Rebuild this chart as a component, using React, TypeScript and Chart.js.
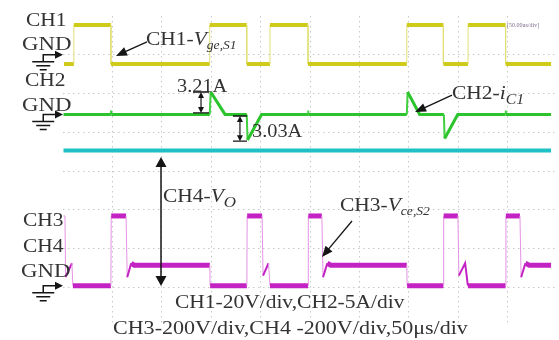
import React, { useEffect, useRef, useState } from "react";
import { Chart, registerables } from "chart.js";

Chart.register(...registerables);

const W = 559;
const H = 340;

// time axis (µs, 50 µs/div, 10 div) and vertical axis (divisions, 8 div)
const timeMin = 0;
const timeMax = 500;
const timeStep = 50;
const divMin = 0;
const divMax = 8;
const divStep = 1;

// CH1 - gate voltage of S1 (time µs / level in divisions)
const ch1Time = [1, 11, 11, 48.5, 48.5, 148.5, 148.5, 186, 186, 209.5, 209.5, 248, 248, 348, 348, 385, 385, 410, 410, 448, 448, 494];
const ch1Level = [6.76, 6.76, 7.77, 7.77, 6.76, 6.76, 7.77, 7.77, 6.76, 6.76, 7.77, 7.77, 6.76, 6.76, 7.77, 7.77, 6.76, 6.76, 7.77, 7.77, 6.76, 6.76];

// CH2 - capacitor current iC1
const ch2Time = [0.5, 48.5, 48.7, 48.9, 148.5, 149.5, 164, 186, 186.8, 201, 248, 248.2, 248.4, 348, 348.8, 361, 385.5, 386.3, 399.5, 448, 448.2, 448.4, 494];
const ch2Level = [5.46, 5.46, 5.56, 5.46, 5.46, 6.04, 5.46, 5.46, 4.8, 5.46, 5.46, 5.56, 5.46, 5.46, 6.04, 5.46, 5.46, 4.84, 5.46, 5.46, 5.56, 5.46, 5.46];

// CH3 - collector-emitter voltage of S2
const ch3Time = [0.5, 2, 2.6, 9, 10, 48.5, 48.8, 63.8, 65, 69, 72, 148.6, 148.9, 186.1, 186.4, 201.5, 202.5, 208, 209.5, 248, 248.3, 262, 263.2, 267.5, 271, 348, 348.3, 385, 385.3, 399.7, 400.7, 407, 409.8, 448, 448.3, 462.5, 463.7, 468, 472, 494];
const ch3Level = [2.84, 2.84, 1.26, 1.62, 1.04, 1.04, 2.84, 2.84, 1.26, 1.62, 1.57, 1.57, 1.04, 1.04, 2.84, 2.84, 1.3, 1.62, 1.04, 1.04, 2.84, 2.84, 1.26, 1.62, 1.57, 1.57, 1.04, 1.04, 2.84, 2.84, 1.3, 1.62, 1.04, 1.04, 2.84, 2.84, 1.26, 1.62, 1.57, 1.57];

// CH4 - output voltage Vo
const ch4Time = [0.5, 494];
const ch4Level = [4.53, 4.53];

// annotation geometry (data units)
const pointerArrows = [
  { from: [85.0, 7.33], to: [53.6, 6.97] },
  { from: [393.7, 5.96], to: [356.3, 5.52] },
  { from: [292.5, 2.71], to: [262.1, 1.78] },
];
const spanArrows = [
  { t: 99.2, v0: 4.36, v1: 1.03, tick: 0, head: 10, half: 5.5, lw: 1.5 },
  { t: 139.7, v0: 6.04, v1: 5.5, tick: 8, head: 6, half: 3, lw: 1.2 },
  { t: 179.1, v0: 5.42, v1: 4.77, tick: 7, head: 6, half: 3, lw: 1.2 },
];
const groundLevels = [7.0, 5.46, 1.04];
const groundTime = -20;

const SERIF = "'Liberation Serif', 'Times New Roman', serif";

const it = (s: string) => <span style={{ fontStyle: "italic" }}>{s}</span>;
const sub = (s: string, size = 12) => (
  <span style={{ fontStyle: "italic", fontSize: size, verticalAlign: "-0.3em" }}>{s}</span>
);

type Label = { t: number; v: number; size: number; node: React.ReactNode; color?: string; sx?: number };

const LABELS: Label[] = [
  { t: -37.4, v: 7.92, size: 19, node: "CH1" },
  { t: -41.5, v: 7.3, size: 19, node: "GND", sx: 1.2 },
  { t: -38.5, v: 6.37, size: 19, node: "CH2" },
  { t: -41.5, v: 5.73, size: 19, node: "GND", sx: 1.2 },
  { t: -40.5, v: 2.76, size: 19, node: "CH3" },
  { t: -40.5, v: 2.09, size: 19, node: "CH4" },
  { t: -42.5, v: 1.45, size: 19, node: "GND", sx: 1.2 },
  { t: 84.0, v: 7.38, size: 19, node: <>CH1-{it("V")}{sub("ge,S1")}</> },
  { t: 115.4, v: 6.19, size: 18, node: "3.21A" },
  { t: 191.3, v: 5.03, size: 18, node: "3.03A" },
  { t: 393.7, v: 5.96, size: 19, node: <>CH2-{it("i")}{sub("C1", 14)}</> },
  { t: 101.2, v: 3.3, size: 19, node: <>CH4-{it("V")}{sub("O", 15)}</> },
  { t: 280.4, v: 3.1, size: 19, node: <>CH3-{it("V")}{sub("ce,S2")}</> },
  { t: 113.4, v: 0.65, size: 19, node: "CH1-20V/div,CH2-5A/div" },
  { t: 50.6, v: -0.03, size: 19, node: "CH3-200V/div,CH4 -200V/div,50μs/div", sx: 1.16 },
  { t: 449.4, v: 7.77, size: 6, node: "[50.00us/div]", color: "#7b6d8c", sx: 1 },
];

function pts(t: number[], v: number[]) {
  return t.map((x, i) => ({ x, y: v[i] }));
}

function head(ctx: CanvasRenderingContext2D, x: number, y: number, ang: number, len: number, half: number) {
  ctx.beginPath();
  ctx.moveTo(x, y);
  ctx.lineTo(x - len * Math.cos(ang) + half * Math.sin(ang), y - len * Math.sin(ang) - half * Math.cos(ang));
  ctx.lineTo(x - len * Math.cos(ang) - half * Math.sin(ang), y - len * Math.sin(ang) + half * Math.cos(ang));
  ctx.closePath();
  ctx.fill();
}

const overlayPlugin = {
  id: "scopeOverlay",
  afterDatasetsDraw(chart: any) {
    const { ctx } = chart;
    const xs = chart.scales.x;
    const ys = chart.scales.y;
    const px = (t: number) => xs.getPixelForValue(t);
    const py = (v: number) => ys.getPixelForValue(v);
    ctx.save();
    ctx.strokeStyle = "#151515";
    ctx.fillStyle = "#151515";
    ctx.lineCap = "butt";
    for (const a of pointerArrows) {
      const x0 = px(a.from[0]), y0 = py(a.from[1]);
      const x1 = px(a.to[0]), y1 = py(a.to[1]);
      const ang = Math.atan2(y1 - y0, x1 - x0);
      ctx.lineWidth = 1.3;
      ctx.beginPath();
      ctx.moveTo(x0, y0);
      ctx.lineTo(x1 - 6 * Math.cos(ang), y1 - 6 * Math.sin(ang));
      ctx.stroke();
      head(ctx, x1, y1, ang, 11, 4.5);
    }
    for (const s of spanArrows) {
      const x = px(s.t), ya = py(s.v0), yb = py(s.v1);
      ctx.lineWidth = s.lw;
      ctx.beginPath();
      ctx.moveTo(x, ya + s.head - 1);
      ctx.lineTo(x, yb - s.head + 1);
      ctx.stroke();
      head(ctx, x, ya, -Math.PI / 2, s.head, s.half);
      head(ctx, x, yb, Math.PI / 2, s.head, s.half);
      if (s.tick > 0) {
        ctx.lineWidth = 1.4;
        ctx.beginPath();
        ctx.moveTo(x - s.tick, ya);
        ctx.lineTo(x + s.tick, ya);
        ctx.moveTo(x - s.tick, yb);
        ctx.lineTo(x + s.tick, yb);
        ctx.stroke();
      }
    }
    for (const g of groundLevels) {
      const gx = px(groundTime), gy = py(g), tip = px(0);
      ctx.lineWidth = 1.5;
      ctx.beginPath();
      ctx.moveTo(gx, gy + 7);
      ctx.lineTo(gx, gy);
      ctx.lineTo(tip - 6, gy);
      ctx.stroke();
      head(ctx, tip, gy, 0, 8, 4);
      ctx.lineWidth = 1.6;
      ctx.beginPath();
      ctx.moveTo(gx - 11, gy + 7);
      ctx.lineTo(gx + 11, gy + 7);
      ctx.moveTo(gx - 7, gy + 11);
      ctx.lineTo(gx + 7, gy + 11);
      ctx.moveTo(gx - 3.5, gy + 15);
      ctx.lineTo(gx + 3.5, gy + 15);
      ctx.stroke();
    }
    ctx.restore();
  },
};

// flat parts are thick, fast edges thin and pale, ringing parts medium
function edgeStyle(thick: number, color: string, thin: number, light: string, mid: number) {
  const kind = (c: any) => {
    const dx = Math.abs(c.p1.x - c.p0.x);
    const dy = Math.abs(c.p1.y - c.p0.y);
    if (dx < 2) return 0;
    if (dx < 8 && dy > 3) return 1;
    return 2;
  };
  return {
    borderWidth: (c: any) => [thin, mid, thick][kind(c)],
    borderColor: (c: any) => (kind(c) === 0 ? light : color),
  };
}

export default function App() {
  const ref = useRef<HTMLCanvasElement | null>(null);
  const [pix, setPix] = useState<{ x: number; y: number }[] | null>(null);

  useEffect(() => {
    if (!ref.current) return;
    const gridColor = (edgeA: number, edgeB: number) => (c: any) =>
      c.tick && (c.tick.value === edgeA || c.tick.value === edgeB) ? "rgba(0,0,0,0)" : "#c8c8c8";
    const chart = new Chart(ref.current, {
      type: "line",
      data: {
        datasets: [
          {
            data: pts(ch1Time, ch1Level),
            borderColor: "#cfcb1a",
            borderWidth: 4,
            segment: edgeStyle(4, "#cfcb1a", 1, "#e2df74", 2),
          },
          {
            data: pts(ch2Time, ch2Level),
            borderColor: "#2cc42c",
            borderWidth: 3,
            segment: edgeStyle(3, "#2cc42c", 2, "#3fcf3f", 2.5),
          },
          {
            data: pts(ch4Time, ch4Level),
            borderColor: "#1fc0c6",
            borderWidth: 4,
          },
          {
            data: pts(ch3Time, ch3Level),
            borderColor: "#c423c4",
            borderWidth: 5,
            segment: edgeStyle(5, "#c423c4", 1, "#e592e5", 2),
          },
        ] as any,
      },
      options: {
        animation: false,
        responsive: false,
        maintainAspectRatio: false,
        parsing: false,
        normalized: true,
        layout: { padding: { left: 63, right: 2, top: 16, bottom: 14 } },
        elements: { point: { radius: 0, hoverRadius: 0 }, line: { tension: 0 } },
        plugins: { legend: { display: false }, tooltip: { enabled: false } },
        events: [],
        scales: {
          x: {
            type: "linear",
            min: timeMin,
            max: timeMax,
            ticks: { display: false, stepSize: timeStep },
            grid: { color: gridColor(timeMin, timeMax), drawTicks: false, lineWidth: 1 },
            border: { display: false, dash: [1.5, 3.5] },
          },
          y: {
            type: "linear",
            min: divMin,
            max: divMax,
            ticks: { display: false, stepSize: divStep },
            grid: { color: gridColor(divMin, divMax), drawTicks: false, lineWidth: 1 },
            border: { display: false, dash: [1.5, 3.5] },
          },
        },
      } as any,
      plugins: [overlayPlugin],
    });
    const xs: any = chart.scales.x;
    const ys: any = chart.scales.y;
    setPix(LABELS.map((l) => ({ x: xs.getPixelForValue(l.t), y: ys.getPixelForValue(l.v) })));
    return () => chart.destroy();
  }, []);

  return (
    <div style={{ position: "fixed", left: 0, top: 0, width: W, height: H, background: "#fff", overflow: "hidden" }}>
      <canvas ref={ref} width={W} height={H} style={{ position: "absolute", left: 0, top: 0, width: W, height: H }} />
      {pix &&
        LABELS.map((l, i) => (
          <div
            key={i}
            style={{
              position: "absolute",
              left: pix[i].x,
              top: pix[i].y,
              transform: `translateY(-50%) scaleX(${l.sx ?? 1.13})`,
              transformOrigin: "left center",
              fontFamily: SERIF,
              fontSize: l.size,
              lineHeight: 1,
              whiteSpace: "nowrap",
              color: l.color ?? "#333",
            }}
          >
            {l.node}
          </div>
        ))}
    </div>
  );
}
